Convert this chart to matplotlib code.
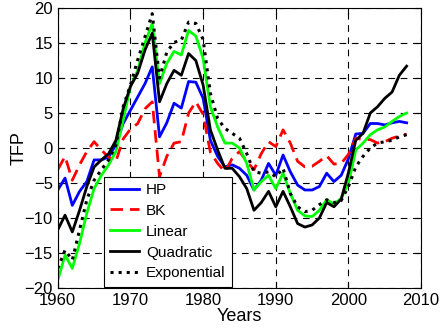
import numpy as np
import matplotlib
matplotlib.use("Agg")
import matplotlib.pyplot as plt

plt.rcParams['font.family'] = ['Liberation Sans', 'DejaVu Sans']

years = np.arange(1960, 2009)

# TFP gap under each detrending method
hp = [-6.0, -4.3, -8.2, -6.2, -4.8, -1.7, -1.7, -1.3, 0.5, 3.5,
      5.4, 7.3, 9.2, 11.6, 1.6, 3.6, 6.4, 5.7, 9.5, 9.4,
      7.1, 1.1, -1.2, -2.7, -2.4, -2.9, -3.9, -6.0, -4.6, -2.2,
      -3.9, -1.0, -3.4, -5.3, -6.0, -6.0, -5.5, -3.6, -4.8, -3.9,
      -1.5, 2.0, 2.1, 3.5, 3.5, 3.3, 3.6, 3.8, 3.6]
bk = [-3.1, -1.2, -4.6, -2.4, -0.5, 0.9, -0.3, -1.3, -1.9, 1.3,
      2.7, 3.5, 5.6, 6.6, -4.1, -1.2, 0.7, 0.9, 5.0, 6.6,
      4.8, -0.6, -2.2, -3.4, -1.5, -0.5, -1.9, -3.1, -0.8, 0.9,
      0.2, 2.6, 0.7, -1.9, -2.7, -2.6, -1.9, -1.1, -2.3, -2.2,
      -0.9, 1.4, 1.2, 1.2, 0.7, 0.9, 1.4, 1.7, 2.0]
linear = [-18.9, -15.3, -17.2, -13.6, -9.3, -5.8, -3.9, -2.4, -0.5, 4.0,
          8.8, 11.1, 15.0, 17.8, 9.2, 12.1, 13.8, 13.3, 16.8, 16.0,
          12.8, 5.9, 3.0, 0.7, 0.7, 0.0, -2.2, -6.0, -4.8, -3.9,
          -5.8, -3.6, -6.5, -8.9, -9.7, -9.8, -8.9, -7.4, -8.0, -7.2,
          -5.0, -0.3, 0.7, 1.9, 2.6, 3.0, 3.8, 4.5, 5.0]
quadratic = [-11.7, -9.6, -12.0, -8.9, -5.5, -2.7, -1.7, -0.8, 1.1, 5.6,
             8.8, 10.7, 14.0, 16.4, 6.6, 9.2, 11.1, 10.4, 13.5, 12.5,
             9.0, 2.6, -0.3, -2.9, -2.9, -4.1, -5.8, -8.9, -7.8, -6.2,
             -8.4, -6.2, -8.4, -10.8, -11.3, -11.0, -10.0, -7.8, -8.4, -7.3,
             -3.5, 1.1, 2.1, 5.0, 5.9, 7.1, 8.0, 10.4, 11.7]
exponential = [-17.2, -14.6, -16.0, -11.7, -7.4, -4.6, -3.1, -1.7, 0.4, 5.9,
               9.0, 12.6, 15.9, 19.2, 10.0, 13.7, 15.1, 15.4, 18.0, 17.8,
               15.5, 7.8, 4.2, 2.8, 2.1, 1.4, -0.8, -3.4, -3.6, -3.4,
               -4.1, -2.9, -6.5, -8.4, -9.1, -8.9, -8.1, -7.4, -7.8, -7.5,
               -5.5, -2.7, -1.2, 0.0, 0.7, 0.9, 1.1, 1.6, 1.9]

fig = plt.figure(figsize=(4.41, 3.36), dpi=100)
ax = fig.add_axes([0.131, 0.143, 0.824, 0.833])

ax.plot(years, hp, color=(0, 0, 1), lw=2, label='HP')
ax.plot(years, bk, color=(1, 0, 0), lw=2, ls='--', dashes=(4.5, 2.5), label='BK')
ax.plot(years, linear, color=(0, 1, 0), lw=2, label='Linear')
ax.plot(years, quadratic, color='k', lw=2, label='Quadratic')
ax.plot(years, exponential, color='k', lw=2.2, ls=':', label='Exponential')

ax.set_xlim(1960, 2010)
ax.set_ylim(-20, 20)
ax.set_xticks(np.arange(1960, 2011, 10))
ax.set_yticks(np.arange(-20, 21, 5))
ax.grid(True, color='k', ls=(0, (6, 5)), lw=0.8)
ax.tick_params(direction='in', top=True, right=True, labelsize=12, length=4, pad=3.5)
ax.set_xlabel('Years', fontsize=13, labelpad=0)
ax.set_ylabel('TFP', fontsize=13, labelpad=-2)

leg = ax.legend(loc='lower left', bbox_to_anchor=(0.127, 0.005), borderaxespad=0,
                fontsize=11, fancybox=False, framealpha=1, edgecolor='k',
                handlelength=1.9, labelspacing=0.45, borderpad=0.4, handletextpad=0.45)
leg.get_frame().set_linewidth(0.8)

fig.savefig('out.png', dpi=100)
